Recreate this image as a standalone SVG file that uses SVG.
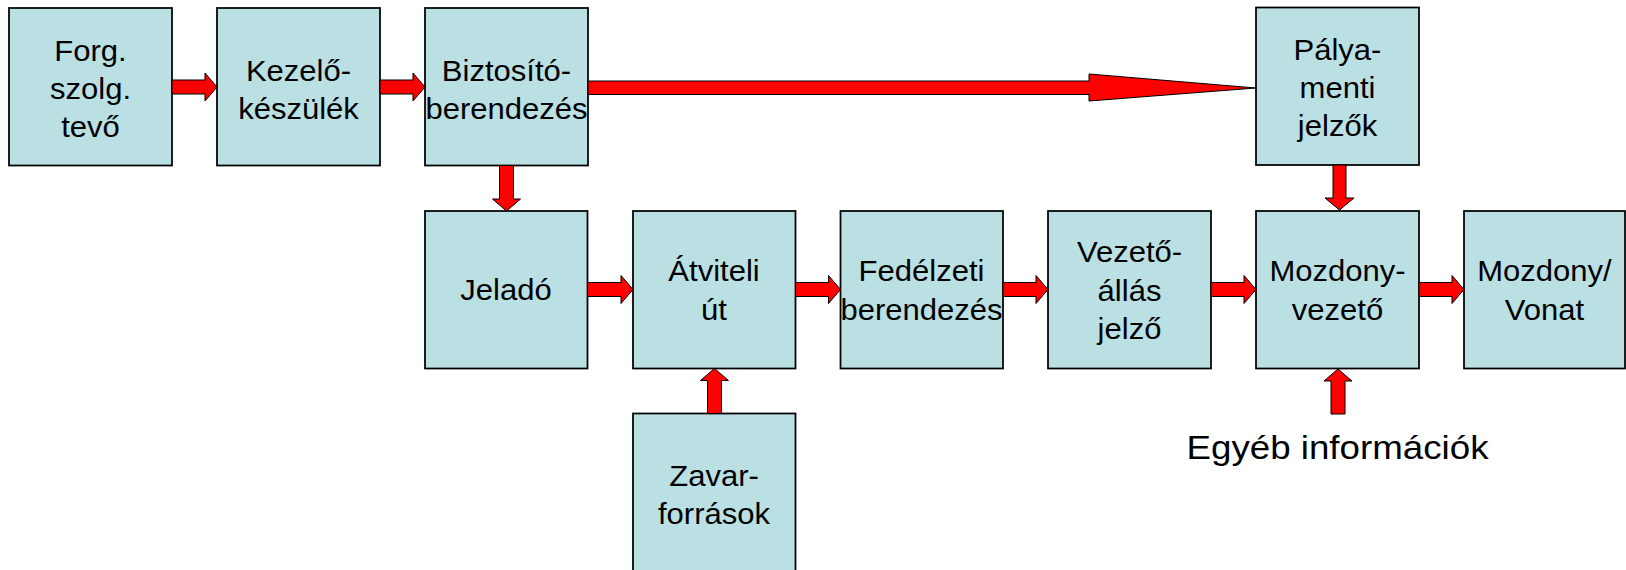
<svg xmlns="http://www.w3.org/2000/svg" width="1626" height="570" viewBox="0 0 1626 570">
  <style>
    .box { fill: #BBE0E3; stroke: #000; stroke-width: 1.75; }
    .lbl { font-family: "Liberation Sans", Arial, sans-serif; font-size: 29px; fill: #000; text-anchor: middle; }
    .note { font-family: "Liberation Sans", Arial, sans-serif; font-size: 34px; fill: #000; text-anchor: middle; }
    .arw { fill: #FF0000; stroke: #000; stroke-width: 1; stroke-linejoin: miter; }
  </style>
  <rect width="1626" height="570" fill="#fff"/>

  <!-- top row; labels are slightly widened via horizontal scale -->
  <g id="forg">
    <rect class="box" x="9" y="8" width="163" height="157.5"/>
    <text class="lbl" transform="translate(90.5 0) scale(1.07 1)"><tspan x="0" y="61">Forg.</tspan><tspan x="0" y="99">szolg.</tspan><tspan x="0" y="137">tevő</tspan></text>
  </g>
  <g id="kezelo">
    <rect class="box" x="217" y="8" width="163" height="157.5"/>
    <text class="lbl" transform="translate(298.5 0) scale(1.07 1)"><tspan x="0" y="81">Kezelő-</tspan><tspan x="0" y="119">készülék</tspan></text>
  </g>
  <g id="biztosito">
    <rect class="box" x="425" y="8" width="163" height="157.5"/>
    <text class="lbl" transform="translate(506.5 0) scale(1.07 1)"><tspan x="0" y="81">Biztosító-</tspan><tspan x="0" y="119">berendezés</tspan></text>
  </g>
  <g id="palya">
    <rect class="box" x="1256" y="7.5" width="163" height="157.5"/>
    <text class="lbl" transform="translate(1337.5 0) scale(1.07 1)"><tspan x="0" y="60">Pálya-</tspan><tspan x="0" y="98">menti</tspan><tspan x="0" y="136">jelzők</tspan></text>
  </g>

  <!-- bottom row -->
  <g id="jelado">
    <rect class="box" x="425" y="211" width="162.5" height="157.5"/>
    <text class="lbl" transform="translate(506 0) scale(1.07 1)" x="0" y="300.5">Jeladó</text>
  </g>
  <g id="atviteli">
    <rect class="box" x="633" y="211" width="162.5" height="157.5"/>
    <text class="lbl" transform="translate(714 0) scale(1.07 1)"><tspan x="0" y="281.5">Átviteli</tspan><tspan x="0" y="320">út</tspan></text>
  </g>
  <g id="fedelzeti">
    <rect class="box" x="840.5" y="211" width="162.5" height="157.5"/>
    <text class="lbl" transform="translate(921.5 0) scale(1.07 1)"><tspan x="0" y="281.5">Fedélzeti</tspan><tspan x="0" y="320">berendezés</tspan></text>
  </g>
  <g id="vezetoallas">
    <rect class="box" x="1048" y="211" width="163" height="157.5"/>
    <text class="lbl" transform="translate(1129.5 0) scale(1.07 1)"><tspan x="0" y="262.5">Vezető-</tspan><tspan x="0" y="301">állás</tspan><tspan x="0" y="339.5">jelző</tspan></text>
  </g>
  <g id="mozdonyvezeto">
    <rect class="box" x="1256" y="211" width="163" height="157.5"/>
    <text class="lbl" transform="translate(1337.5 0) scale(1.07 1)"><tspan x="0" y="281.5">Mozdony-</tspan><tspan x="0" y="320">vezető</tspan></text>
  </g>
  <g id="mozdonyvonat">
    <rect class="box" x="1464" y="211" width="161" height="157.5"/>
    <text class="lbl" transform="translate(1544.5 0) scale(1.07 1)"><tspan x="0" y="281.5">Mozdony/</tspan><tspan x="0" y="320">Vonat</tspan></text>
  </g>
  <g id="zavar">
    <rect class="box" x="633" y="413.5" width="162.5" height="170"/>
    <text class="lbl" transform="translate(714 0) scale(1.07 1)"><tspan x="0" y="486.5">Zavar-</tspan><tspan x="0" y="524">források</tspan></text>
  </g>

  <g id="egyeb">
    <text class="note" transform="translate(1337.5 0) scale(1.08 1)" x="0" y="459.5">Egyéb információk</text>
  </g>

  <!-- block arrows -->
  <g id="connectors">
    <polygon class="arw" points="172,80 205,80 205,73 217,87 205,101 205,94 172,94"/>
    <polygon class="arw" points="380,80 413,80 413,73 425,87 413,101 413,94 380,94"/>
    <polygon class="arw" points="588,81 1089,81 1089,74 1256,88 1089,101 1089,94.5 588,94.5"/>
    <polygon class="arw" points="499.5,165.5 499.5,199 492.5,199 506.5,211 520.5,199 513.5,199 513.5,165.5"/>
    <polygon class="arw" points="1333,165 1333,198 1325,198 1339.5,210 1354,198 1346,198 1346,165"/>

    <polygon class="arw" points="587.5,282.5 621,282.5 621,275.5 633,289.5 621,303.5 621,296.5 587.5,296.5"/>
    <polygon class="arw" points="795.5,282.5 828.5,282.5 828.5,275.5 840.5,289.5 828.5,303.5 828.5,296.5 795.5,296.5"/>
    <polygon class="arw" points="1003,282.5 1036,282.5 1036,275.5 1048,289.5 1036,303.5 1036,296.5 1003,296.5"/>
    <polygon class="arw" points="1211,282.5 1244,282.5 1244,275.5 1256,289.5 1244,303.5 1244,296.5 1211,296.5"/>
    <polygon class="arw" points="1419,282.5 1452,282.5 1452,275.5 1464,289.5 1452,303.5 1452,296.5 1419,296.5"/>

    <polygon class="arw" points="707.5,413.5 707.5,380.5 700.5,380.5 714.5,368.5 728.5,380.5 721.5,380.5 721.5,413.5"/>
    <polygon class="arw" points="1331,414 1331,381 1324,381 1338,369 1352,381 1345,381 1345,414"/>
  </g>
</svg>
